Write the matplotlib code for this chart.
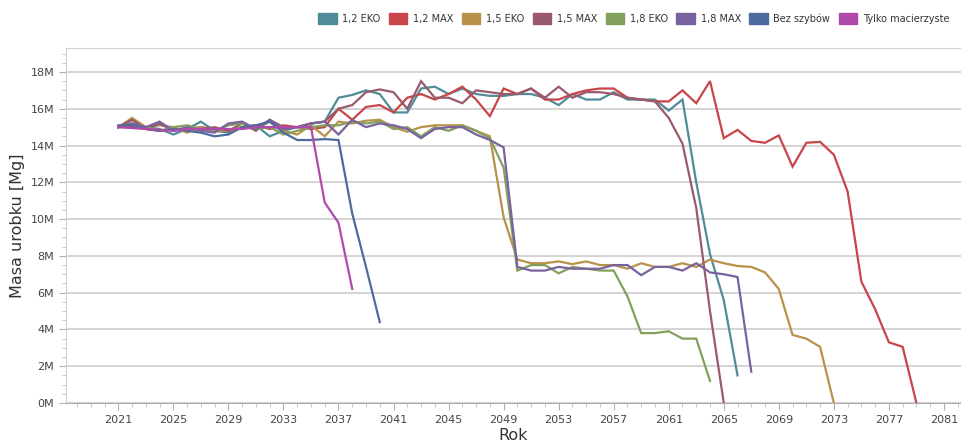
import numpy as np
import matplotlib.pyplot as plt
from matplotlib.ticker import MultipleLocator, FuncFormatter
from matplotlib.patches import Patch

# annual output per scenario, million Mg, starting in 2021
start_year = 2021

eko_12 = [15.0, 15.4, 15.0, 14.9, 14.6, 14.9, 15.3, 14.8, 14.7, 15.0, 15.1, 14.5, 14.8, 15.0,
          15.2, 15.3, 16.6, 16.75, 17.0, 16.8, 15.8, 15.8, 17.1, 17.2, 16.8, 17.1, 16.8, 16.7,
          16.7, 16.8, 16.8, 16.6, 16.2, 16.8, 16.5, 16.5, 16.9, 16.5, 16.5, 16.5, 15.9, 16.5,
          12.0, 8.1, 5.6, 1.5]
max_12 = [15.0, 15.0, 14.9, 14.8, 14.9, 14.9, 15.0, 14.9, 14.8, 15.0, 15.1, 14.9, 15.1, 15.0,
          14.9, 15.0, 16.0, 15.4, 16.1, 16.2, 15.8, 16.6, 16.8, 16.5, 16.8, 17.2, 16.5, 15.6,
          17.1, 16.8, 17.1, 16.5, 16.5, 16.8, 17.0, 17.1, 17.1, 16.6, 16.5, 16.4, 16.4, 17.0,
          16.3, 17.5, 14.4, 14.85, 14.25, 14.15, 14.55, 12.85, 14.15, 14.2, 13.5, 11.5, 6.6,
          5.1, 3.3, 3.05, 0.0]
eko_15 = [15.0, 15.5, 15.0, 15.1, 15.0, 14.7, 15.0, 14.8, 14.8, 15.0, 14.9, 15.3, 14.8, 14.6,
          15.1, 14.5, 15.3, 15.2, 15.35, 15.4, 15.0, 14.75, 15.0, 15.1, 15.1, 15.1, 14.8, 14.5,
          10.1, 7.8, 7.6, 7.6, 7.7, 7.55, 7.7, 7.5, 7.5, 7.3, 7.6, 7.4, 7.4, 7.6, 7.4, 7.8,
          7.6, 7.45, 7.4, 7.1, 6.2, 3.7, 3.5, 3.05, 0.0]
max_15 = [15.0, 15.4, 14.9, 15.2, 14.8, 14.9, 14.9, 15.0, 14.8, 15.2, 14.8, 15.4, 15.0, 15.0,
          15.2, 15.3, 16.0, 16.2, 16.9, 17.05, 16.9, 16.0, 17.5, 16.6, 16.6, 16.3, 17.0, 16.9,
          16.8, 16.8, 17.1, 16.6, 17.2, 16.6, 16.9, 16.9, 16.8, 16.6, 16.5, 16.4, 15.5, 14.1,
          10.6, 5.0, 0.0]
eko_18 = [15.0, 15.2, 15.0, 14.8, 15.0, 15.1, 14.9, 14.8, 15.1, 15.2, 14.9, 15.0, 14.6, 14.8,
          15.0, 15.1, 15.1, 15.3, 15.2, 15.3, 14.9, 15.0, 14.5, 15.0, 14.8, 15.1, 14.8, 14.4,
          12.8, 7.2, 7.5, 7.5, 7.05, 7.4, 7.3, 7.2, 7.2, 5.8, 3.8, 3.8, 3.9, 3.5, 3.5, 1.2]
max_18 = [15.0, 15.2, 15.0, 15.3, 14.8, 15.0, 14.8, 14.7, 15.2, 15.3, 14.9, 15.4, 14.9, 15.0,
          15.2, 15.3, 14.6, 15.4, 15.0, 15.2, 15.1, 14.9, 14.4, 14.9, 15.0, 15.0, 14.6, 14.3,
          13.9, 7.4, 7.2, 7.2, 7.4, 7.3, 7.3, 7.3, 7.5, 7.5, 6.95, 7.4, 7.4, 7.2, 7.6, 7.1,
          7.0, 6.85, 1.7]
bez_szybow = [15.1, 15.1, 14.9, 14.8, 14.9, 14.8, 14.7, 14.5, 14.6, 15.0, 15.1, 15.3, 14.7,
              14.3, 14.3, 14.35, 14.3, 10.3, 7.4, 4.4]
macierzyste = [15.0, 14.95, 14.9, 14.85, 14.8, 14.9, 14.9, 14.9, 14.9, 14.9, 15.0, 15.0, 15.0,
               15.0, 15.0, 10.9, 9.8, 6.2]

labels = ["1,2 EKO", "1,2 MAX", "1,5 EKO", "1,5 MAX", "1,8 EKO", "1,8 MAX",
          "Bez szybów", "Tylko macierzyste"]
colors = ["#4f8c98", "#c8454a", "#b8914a", "#9a5a6e", "#82a05c", "#7a62a0",
          "#4f6a9e", "#b04aaa"]
series = [eko_12, max_12, eko_15, max_15, eko_18, max_18, bez_szybow, macierzyste]

fig = plt.figure(figsize=(9.61, 4.45), dpi=100)
ax = fig.add_axes([0.0687, 0.0944, 0.9313, 0.7976])

for vals, col in zip(series, colors):
    yrs = np.arange(start_year, start_year + len(vals))
    ax.plot(yrs, np.array(vals) * 1e6, color=col, lw=1.6, solid_joinstyle="miter")

ax.set_xlim(2017.2, 2082.24)
ax.set_ylim(0, 19.3e6)
ax.set_xticks(np.arange(2021, 2082, 4))
ax.xaxis.set_minor_locator(MultipleLocator(1))
ax.yaxis.set_major_locator(MultipleLocator(2e6))
ax.yaxis.set_minor_locator(MultipleLocator(0.5e6))
ax.yaxis.set_major_formatter(FuncFormatter(lambda v, p: f"{v / 1e6:.0f}M"))

ax.grid(axis="y", color="#d4d4d4", lw=1.4)
ax.set_axisbelow(True)
for side in ["left", "top"]:
    ax.spines[side].set_color("#d0d0d0")
ax.spines["bottom"].set_color("#b0b0b0")
ax.spines["right"].set_visible(False)
ax.tick_params(axis="both", which="major", labelsize=8, colors="#b0b0b0",
               labelcolor="#444444", length=5)
ax.tick_params(axis="both", which="minor", colors="#c0c0c0", length=3)

ax.set_ylabel("Masa urobku [Mg]", fontsize=11.5, color="#333333", labelpad=4)
ax.set_xlabel("Rok", fontsize=11.5, color="#333333", labelpad=2)

handles = [Patch(facecolor=c, edgecolor=c) for c in colors]
fig.legend(handles, labels, loc="upper right", bbox_to_anchor=(0.997, 0.99), ncol=8,
           frameon=False, fontsize=7.0, handlelength=1.9, handleheight=1.4,
           handletextpad=0.6, columnspacing=0.85, labelcolor="#333333")

fig.savefig("out.png", dpi=100)
